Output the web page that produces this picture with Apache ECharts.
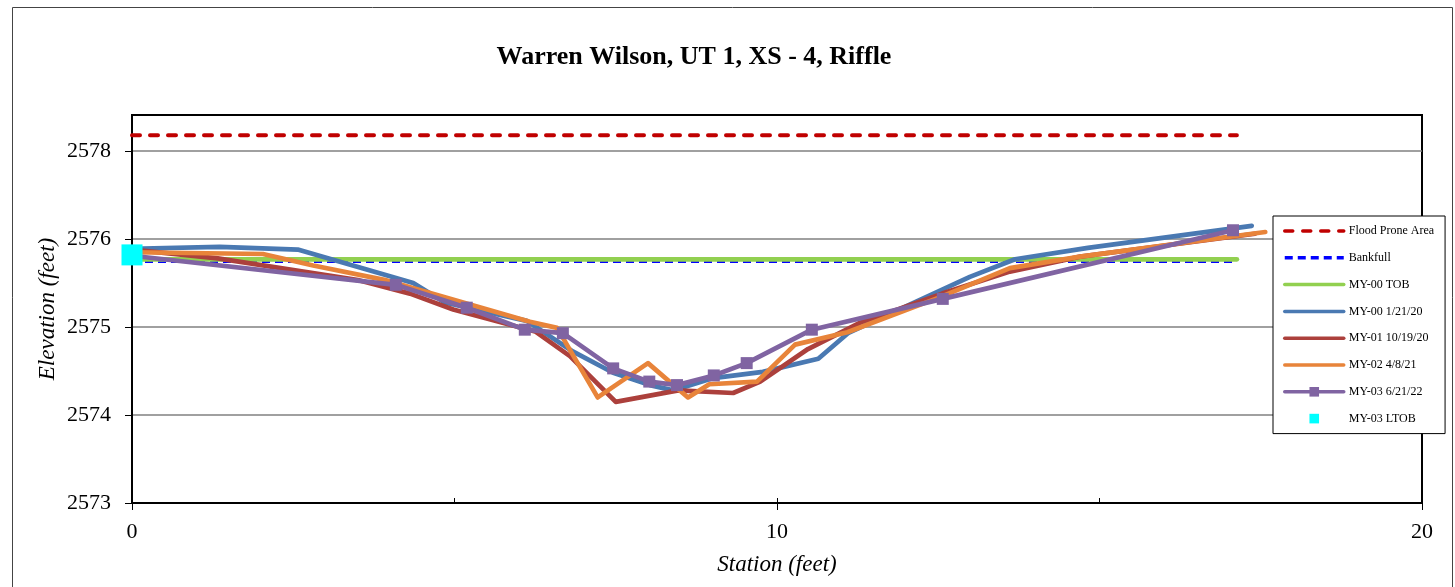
<!DOCTYPE html>
<html><head><meta charset="utf-8">
<script src="https://cdn.jsdelivr.net/npm/echarts/dist/echarts.min.js"></script>
<style>html,body{margin:0;padding:0;background:#fff}#c{width:1455px;height:587px}</style>
</head><body><div id="c"></div>
<script>
const titleText = 'Warren Wilson, UT 1, XS - 4, Riffle';
const seriesNames = ['Flood Prone Area','Bankfull','MY-00 TOB','MY-00 1/21/20','MY-01 10/19/20','MY-02 4/8/21','MY-03 6/21/22','MY-03 LTOB'];

const floodStation = [0, 17.13];
const floodElev = [2577.18, 2577.18];
const bankfullStation = [0, 17.13];
const bankfullElev = [2575.74, 2575.74];
const tobStation = [0, 17.13];
const tobElev = [2575.77, 2575.77];

const my00Station = [0,1.36,2.57,4.36,4.85,6.12,6.84,7.46,8.03,8.39,9.01,9.78,10.64,11.10,12.99,13.69,14.82,17.36];
const my00Elev = [2575.89,2575.91,2575.88,2575.50,2575.28,2575.07,2574.72,2574.48,2574.34,2574.28,2574.42,2574.49,2574.64,2574.93,2575.57,2575.77,2575.90,2576.15];

const my01Station = [0,1.33,3.53,4.31,4.98,6.25,6.79,7.50,8.47,9.32,9.74,10.48,11.29,12.56,13.61,14.70,17.41];
const my01Elev = [2575.88,2575.78,2575.53,2575.38,2575.20,2574.95,2574.67,2574.15,2574.28,2574.25,2574.38,2574.75,2575.05,2575.38,2575.63,2575.80,2576.06];

const my02Station = [0,2.03,2.81,3.95,6.17,6.59,7.22,8.00,8.62,8.95,9.69,10.28,11.09,12.53,13.61,14.70,17.57];
const my02Elev = [2575.85,2575.83,2575.70,2575.53,2575.06,2574.99,2574.20,2574.59,2574.20,2574.35,2574.38,2574.80,2574.94,2575.34,2575.67,2575.80,2576.08];

const my03Station = [0,4.09,5.19,6.09,6.68,7.46,8.02,8.45,9.02,9.53,10.54,12.57,17.07];
const my03Elev = [2575.81,2575.48,2575.22,2574.97,2574.93,2574.53,2574.38,2574.34,2574.45,2574.59,2574.97,2575.32,2576.10];

const ltobStation = [0];
const ltobElev = [2575.82];

const yTickValues = [2573, 2574, 2575, 2576, 2577];
const yTickLabels = ['2573', '2574', '2575', '2576', '2578'];
const xTickLabels = {0: '0', 10: '10', 20: '20'};

function pairs(xs, ys) { return xs.map((x, i) => [x, ys[i]]); }

const serif = '"Liberation Serif", "DejaVu Serif", serif';
const colors = ['#C00000', '#0000FF', '#92D050', '#4A79B2', '#AC403C', '#E8843A', '#8064A2', '#00FFFF'];

const chart = echarts.init(document.getElementById('c'), null, {renderer: 'canvas'});
const lineBase = (name, idx, data, extra) => Object.assign({
  type: 'line', name: name, data: data, symbol: 'none', animation: false,
  lineStyle: {color: colors[idx], width: 4.7, cap: 'round', join: 'round'},
  itemStyle: {color: colors[idx]}, z: 2 + idx
}, extra || {});

chart.setOption({
  animation: false,
  backgroundColor: '#fff',
  textStyle: {fontFamily: serif},
  title: {
    text: titleText, left: 689, top: 39, textAlign: 'center',
    textStyle: {fontFamily: serif, fontSize: 26, fontWeight: 'bold', color: '#000'}
  },
  graphic: [{
    type: 'rect', shape: {x: 12.5, y: 7.5, width: 1440, height: 620},
    style: {fill: 'none', stroke: '#444', lineWidth: 1}, silent: true, z: -1
  }],
  grid: {left: 132, top: 115, right: 33, bottom: 84, show: true, borderColor: '#000', borderWidth: 2, backgroundColor: 'transparent'},
  legend: {
    orient: 'vertical', left: 1273, top: 216,
    padding: [9, 11, 9, 10], itemWidth: 59, itemHeight: 12, itemGap: 14.8,
    backgroundColor: '#fff', borderColor: '#000', borderWidth: 1,
    selectedMode: false,
    lineStyle: {width: 3.5},
    textStyle: {fontFamily: serif, fontSize: 12, color: '#000'},
    data: seriesNames.map((n, i) => (i < 6 ? {name: n, itemStyle: {opacity: 0}} : {name: n}))
  },
  xAxis: [{
    type: 'value', min: 0, max: 20, interval: 10,
    name: 'Station (feet)', nameLocation: 'middle', nameGap: 50,
    nameTextStyle: {fontFamily: serif, fontSize: 23, fontStyle: 'italic', color: '#000'},
    axisLine: {show: true, onZero: false, lineStyle: {color: '#000', width: 2}},
    axisTick: {show: true, length: 7, lineStyle: {color: '#000', width: 1}},
    axisLabel: {fontFamily: serif, fontSize: 22, color: '#000', margin: 18,
      formatter: v => (xTickLabels[v] !== undefined ? xTickLabels[v] : '')},
    splitLine: {show: false}
  }, {
    type: 'value', min: 0, max: 20, interval: 5, position: 'bottom',
    axisLine: {show: false}, axisTick: {show: true, inside: true, length: 5, lineStyle: {color: '#000', width: 1}},
    axisLabel: {show: false}, splitLine: {show: false}
  }],
  yAxis: {
    type: 'value', min: 2573, max: 2577.41, interval: 1,
    name: 'Elevation (feet)', nameLocation: 'middle', nameGap: 73, nameMoveOverlap: false,
    nameTextStyle: {fontFamily: serif, fontSize: 23, fontStyle: 'italic', color: '#000'},
    axisLine: {show: true, lineStyle: {color: '#000', width: 2}},
    axisTick: {show: true, length: 7, customValues: yTickValues, lineStyle: {color: '#000', width: 1}},
    axisLabel: {fontFamily: serif, fontSize: 22, color: '#000', margin: 21, customValues: yTickValues,
      formatter: v => {
        if (Math.abs(v - Math.round(v)) > 1e-6) return '';
        const i = yTickValues.indexOf(Math.round(v));
        return i >= 0 ? yTickLabels[i] : '';
      }},
    splitLine: {show: true, lineStyle: {color: '#808080', width: 1.5}}
  },
  series: [
    lineBase(seriesNames[0], 0, pairs(floodStation, floodElev), {lineStyle: {color: colors[0], width: 4, type: [8, 10], cap: 'round'}}),
    lineBase(seriesNames[1], 1, pairs(bankfullStation, bankfullElev), {lineStyle: {color: colors[1], width: 2, type: [8, 5]}}),
    lineBase(seriesNames[2], 2, pairs(tobStation, tobElev)),
    lineBase(seriesNames[3], 3, pairs(my00Station, my00Elev)),
    lineBase(seriesNames[4], 4, pairs(my01Station, my01Elev)),
    lineBase(seriesNames[5], 5, pairs(my02Station, my02Elev)),
    lineBase(seriesNames[6], 6, pairs(my03Station, my03Elev), {symbol: 'rect', symbolSize: 12, showSymbol: true}),
    lineBase(seriesNames[7], 7, pairs(ltobStation, ltobElev), {symbol: 'rect', symbolSize: 21, showSymbol: true,
      lineStyle: {color: colors[7], width: 0, opacity: 0}})
  ]
});
</script></body></html>
